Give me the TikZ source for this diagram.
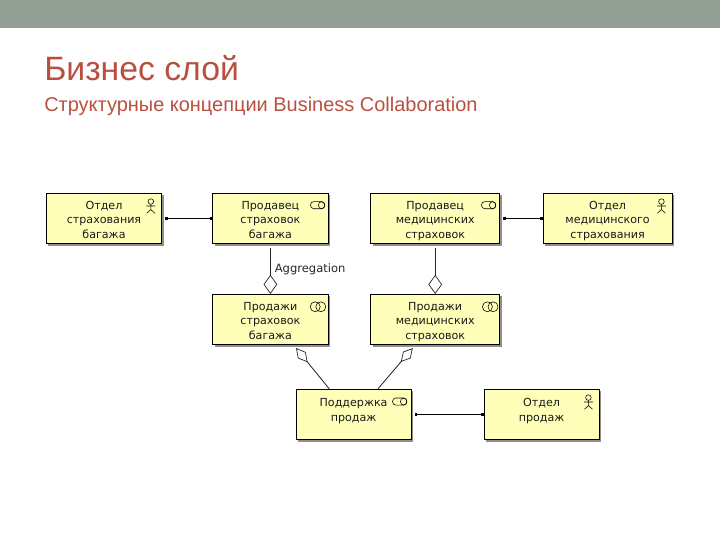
\documentclass[tikz,border=0pt]{standalone}
\usepackage{fontspec}
\setmainfont{Liberation Sans}
\newfontfamily\boxfont{DejaVu Sans}
\usetikzlibrary{arrows.meta, positioning, shadows, calc}

\definecolor{bandgray}{HTML}{929F94}
\definecolor{titlered}{HTML}{B9503F}
\definecolor{boxyellow}{HTML}{FFFFB9}

\begin{document}
\begin{tikzpicture}[
      elem/.style={
        rectangle, draw=black, fill=boxyellow, line width=0.6pt,
        minimum width=2.88cm, minimum height=1.26cm, inner ysep=1pt,
        align=center, font=\boxfont\fontsize{7.9}{10.3}\selectfont, text=black!90,
        text height=30pt, text depth=2pt,
        drop shadow={shadow xshift=0.05cm, shadow yshift=-0.05cm, fill=black!55, opacity=0.8}
      },
      wide/.style={elem, minimum width=3.23cm},
      assoc/.style={
        {Square[length=1.8pt,width=2.4pt]}-{Square[length=1.8pt,width=2.4pt]}, line width=0.75pt, draw=black
      },
      aggr/.style={
        -{Diamond[open, length=0.48cm, width=0.34cm, line width=0.5pt]}, line width=0.6pt, draw=black!85
      },
      aggrslim/.style={
        -{Diamond[open, length=0.46cm, width=0.25cm, line width=0.5pt]}, line width=0.6pt, draw=black!85
      },
      actor/.pic={
        \draw[line width=0.4pt] (0,0) circle (0.07);
        \draw[line width=0.4pt] (0,-0.07) -- (0,-0.2) (-0.11,-0.11) -- (0.11,-0.11)
          (-0.1,-0.29) -- (0,-0.2) -- (0.1,-0.29);
      },
      role/.pic={
        \draw[line width=0.4pt, rounded corners=0.09cm] (-0.18,-0.09) rectangle (0.18,0.09);
        \draw[line width=0.4pt] (0.1,0) ellipse (0.08 and 0.09);
      },
      collab/.pic={
        \draw[line width=0.4pt] (-0.07,0) circle (0.125);
        \draw[line width=0.4pt] (0.07,0) circle (0.125);
      }
    ]
    \useasboundingbox (0,0) rectangle (18,13.5);

    % --- Header band and titles ---
    \fill[bandgray] (0,12.8) rectangle (18,13.5);
    \node[anchor=base west, inner sep=0pt, text=titlered, font=\fontsize{24}{28}\selectfont]
      (title) at (1.1,11.48) {Бизнес слой};
    \node[anchor=base west, inner sep=0pt, text=titlered, font=\fontsize{14.2}{17}\selectfont]
      (subtitle) at (1.1,10.71) {Структурные концепции Business Collaboration};

    % --- Element boxes ---
    \node[elem] (deptbag)  at (2.6,8.04)   {Отдел\\страхования\\багажа};
    \node[elem] (sellbag)  at (6.76,8.04)  {Продавец\\страховок\\багажа};
    \node[wide] (sellmed)  at (10.88,8.04) {Продавец\\медицинских\\страховок};
    \node[wide] (deptmed)  at (15.19,8.04) {Отдел\\медицинского\\страхования};
    \node[elem] (salebag)  at (6.76,5.51)  {Продажи\\страховок\\багажа};
    \node[wide] (salemed)  at (10.88,5.51) {Продажи\\медицинских\\страховок};
    \node[elem] (support)  at (8.84,3.14)  {Поддержка\\продаж\\[-1pt]~};
    \node[elem] (deptsale) at (13.54,3.14) {Отдел\\продаж\\[-1pt]~};

    % --- Icons ---
    \pic at ([xshift=-0.28cm,yshift=-0.22cm]deptbag.north east)  {actor};
    \pic at ([xshift=-0.28cm,yshift=-0.22cm]deptmed.north east)  {actor};
    \pic at ([xshift=-0.28cm,yshift=-0.22cm]deptsale.north east) {actor};
    \pic at ([xshift=-0.27cm,yshift=-0.31cm]sellbag.north east)  {role};
    \pic at ([xshift=-0.29cm,yshift=-0.31cm]sellmed.north east)  {role};
    \pic at ([xshift=-0.3cm,yshift=-0.32cm]support.north east)   {role};
    \pic at ([xshift=-0.26cm,yshift=-0.32cm]salebag.north east)  {collab};
    \pic at ([xshift=-0.25cm,yshift=-0.32cm]salemed.north east)  {collab};

    % --- Associations ---
    \draw[assoc] ([xshift=0.08cm]deptbag.east) -- (sellbag.west);
    \draw[assoc] ([xshift=0.08cm]sellmed.east) -- (deptmed.west);
    \draw[assoc] ([xshift=0.08cm]support.east) -- (deptsale.west);

    % --- Aggregations ---
    \draw[aggr] ([yshift=-0.09cm]sellbag.south) -- (salebag.north)
      node[pos=0.47, right=0.1cm, inner sep=0pt, font=\boxfont\fontsize{8.2}{9}\selectfont, text=black!85] (aggrlabel) {Aggregation};
    \draw[aggr] ([yshift=-0.09cm]sellmed.south) -- (salemed.north);
    \draw[aggrslim] ([xshift=-0.61cm]support.north) -- ([xshift=0.64cm,yshift=-0.07cm]salebag.south);
    \draw[aggrslim] ([xshift=0.61cm]support.north) -- ([xshift=-0.56cm,yshift=-0.07cm]salemed.south);

  \end{tikzpicture}
\end{document}
